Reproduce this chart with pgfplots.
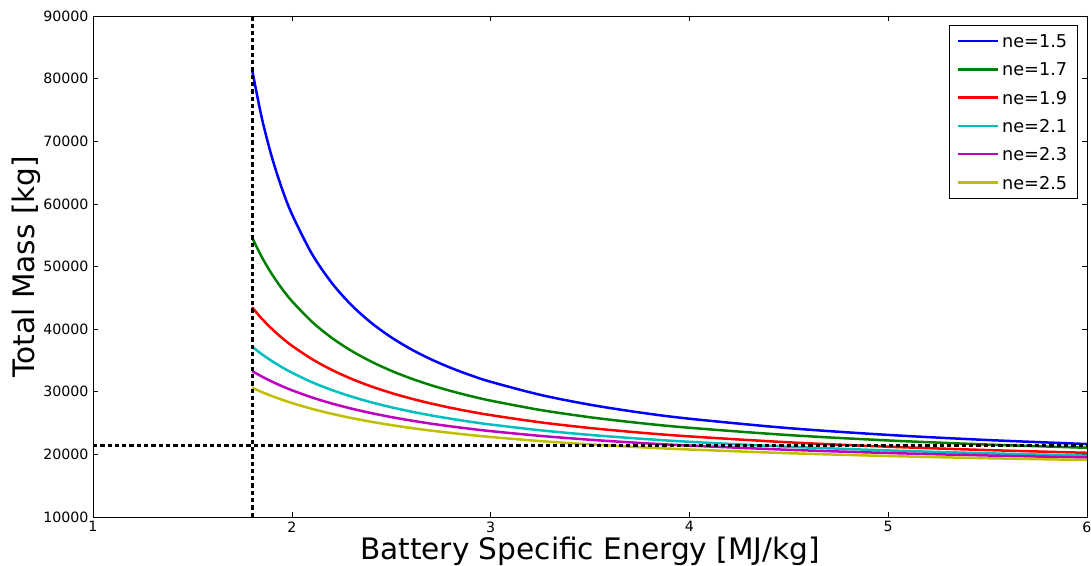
\documentclass[border=0pt]{standalone}
\usepackage{fontspec}
\setmainfont{DejaVu Sans}
\usepackage{pgfplots}
\pgfplotsset{compat=1.18}
\definecolor{mplb}{rgb}{0,0,1}
\definecolor{mplg}{rgb}{0,0.5,0}
\definecolor{mplr}{rgb}{1,0,0}
\definecolor{mplc}{rgb}{0,0.75,0.75}
\definecolor{mplm}{rgb}{0.75,0,0.75}
\definecolor{mply}{rgb}{0.75,0.75,0}
\begin{document}
\begin{tikzpicture}
\begin{axis}[
  name=ax,
  scale only axis,
  width=994pt, height=501pt,
  xmin=1, xmax=6, ymin=10000, ymax=90000,
  xtick={1,2,3,4,5,6},
  ytick={10000,20000,30000,40000,50000,60000,70000,80000,90000},
  scaled y ticks=false,
  /pgf/number format/.cd, 1000 sep={}, assume math mode=true,
  /pgfplots/.cd,
  tick pos=both,
  tick align=inside,
  major tick length=5pt,
  tick style={black, line width=0.6pt},
  axis line style={black, line width=0.8pt},
  ticklabel style={font=\fontsize{14.2}{17}\selectfont},
  xticklabel style={yshift=-1pt},
  yticklabel style={xshift=-1pt},
  xlabel={Battery Specific Energy [MJ/kg]},
  ylabel={Total Mass [kg]},
  xlabel style={font=\fontsize{29.6}{35}\selectfont, at={(axis description cs:0.5,-0.0852)}, anchor=base},
  ylabel style={font=\fontsize{29.6}{35}\selectfont, at={(axis description cs:-0.0584,0.5)}, anchor=base},
  legend cell align=left,
  legend style={at={(axis description cs:0.99095,0.982)}, anchor=north east,
    draw=black, line width=0.6pt, fill=white,
    inner xsep=7.5pt, inner ysep=7.2pt, row sep=11.3pt,
    font=\fontsize{17.7}{21}\selectfont,
    nodes={inner xsep=3pt, inner ysep=2pt, text height=13pt, text depth=0pt}},
  legend image code/.code={\draw[#1, line width=2.5pt] (0pt,0pt) -- (28pt,0pt); \path (0pt,0pt) -- (40pt,0pt);},
  every axis plot/.append style={line width=2.5pt},
]
\addplot[mplb, no marks, smooth] coordinates {
(1.8,81450) (1.85,73588) (1.9,67441) (1.95,62477) (2.0,58401) (2.1,52084) (2.2,47420) (2.3,43835) (2.4,40998) (2.5,38696) (2.6,36785) (2.7,35183) (2.8,33810) (2.9,32625) (3.0,31592) (3.25,29504) (3.5,27928) (3.75,26688) (4.0,25693) (4.5,24187) (5.0,23105) (5.5,22288) (6.0,21650)};
\addlegendentry{ne=1.5}
\addplot[mplg, no marks, smooth] coordinates {
(1.8,54630) (1.85,51458) (1.9,48776) (1.95,46477) (2.0,44491) (2.1,41212) (2.2,38623) (2.3,36532) (2.4,34807) (2.5,33351) (2.6,32116) (2.7,31045) (2.8,30119) (2.9,29304) (3.0,28580) (3.25,27088) (3.5,25929) (3.75,25003) (4.0,24246) (4.5,23078) (5.0,22222) (5.5,21569) (6.0,21051)};
\addlegendentry{ne=1.7}
\addplot[mplr, no marks, smooth] coordinates {
(1.8,43487) (1.85,41640) (1.9,40032) (1.95,38615) (2.0,37363) (2.1,35237) (2.2,33503) (2.3,32063) (2.4,30844) (2.5,29806) (2.6,28907) (2.7,28123) (2.8,27430) (2.9,26813) (3.0,26267) (3.25,25117) (3.5,24210) (3.75,23475) (4.0,22869) (4.5,21923) (5.0,21222) (5.5,20682) (6.0,20249)};
\addlegendentry{ne=1.9}
\addplot[mplc, no marks, smooth] coordinates {
(1.8,37205) (1.85,35979) (1.9,34899) (1.95,33922) (2.0,33052) (2.1,31541) (2.2,30290) (2.3,29228) (2.4,28314) (2.5,27525) (2.6,26836) (2.7,26225) (2.8,25686) (2.9,25199) (3.0,24764) (3.25,23844) (3.5,23109) (3.75,22507) (4.0,22006) (4.5,21218) (5.0,20627) (5.5,20168) (6.0,19800)};
\addlegendentry{ne=2.1}
\addplot[mplm, no marks, smooth] coordinates {
(1.8,33305) (1.85,32418) (1.9,31619) (1.95,30900) (2.0,30245) (2.1,29102) (2.2,28133) (2.3,27303) (2.4,26584) (2.5,25955) (2.6,25401) (2.7,24908) (2.8,24467) (2.9,24072) (3.0,23713) (3.25,22951) (3.5,22335) (3.75,21825) (4.0,21402) (4.5,20727) (5.0,20219) (5.5,19819) (6.0,19499)};
\addlegendentry{ne=2.3}
\addplot[mply, no marks, smooth] coordinates {
(1.8,30641) (1.85,29943) (1.9,29308) (1.95,28735) (2.0,28208) (2.1,27276) (2.2,26486) (2.3,25800) (2.4,25203) (2.5,24677) (2.6,24212) (2.7,23795) (2.8,23422) (2.9,23084) (3.0,22777) (3.25,22121) (3.5,21590) (3.75,21148) (4.0,20777) (4.5,20185) (5.0,19737) (5.5,19384) (6.0,19100)};
\addlegendentry{ne=2.5}
\addplot[black, no marks, line width=3pt, dash pattern=on 4.3pt off 3pt, forget plot] coordinates {(1.8,10000) (1.8,90000)};
\addplot[black, no marks, line width=3pt, dash pattern=on 4.3pt off 3pt, forget plot] coordinates {(1,21380) (6,21380)};
\end{axis}
\pgfresetboundingbox
\useasboundingbox ([shift={(-93pt,-49pt)}]ax.south west) rectangle ([shift={(4pt,16pt)}]ax.north east);
\end{tikzpicture}
\end{document}
